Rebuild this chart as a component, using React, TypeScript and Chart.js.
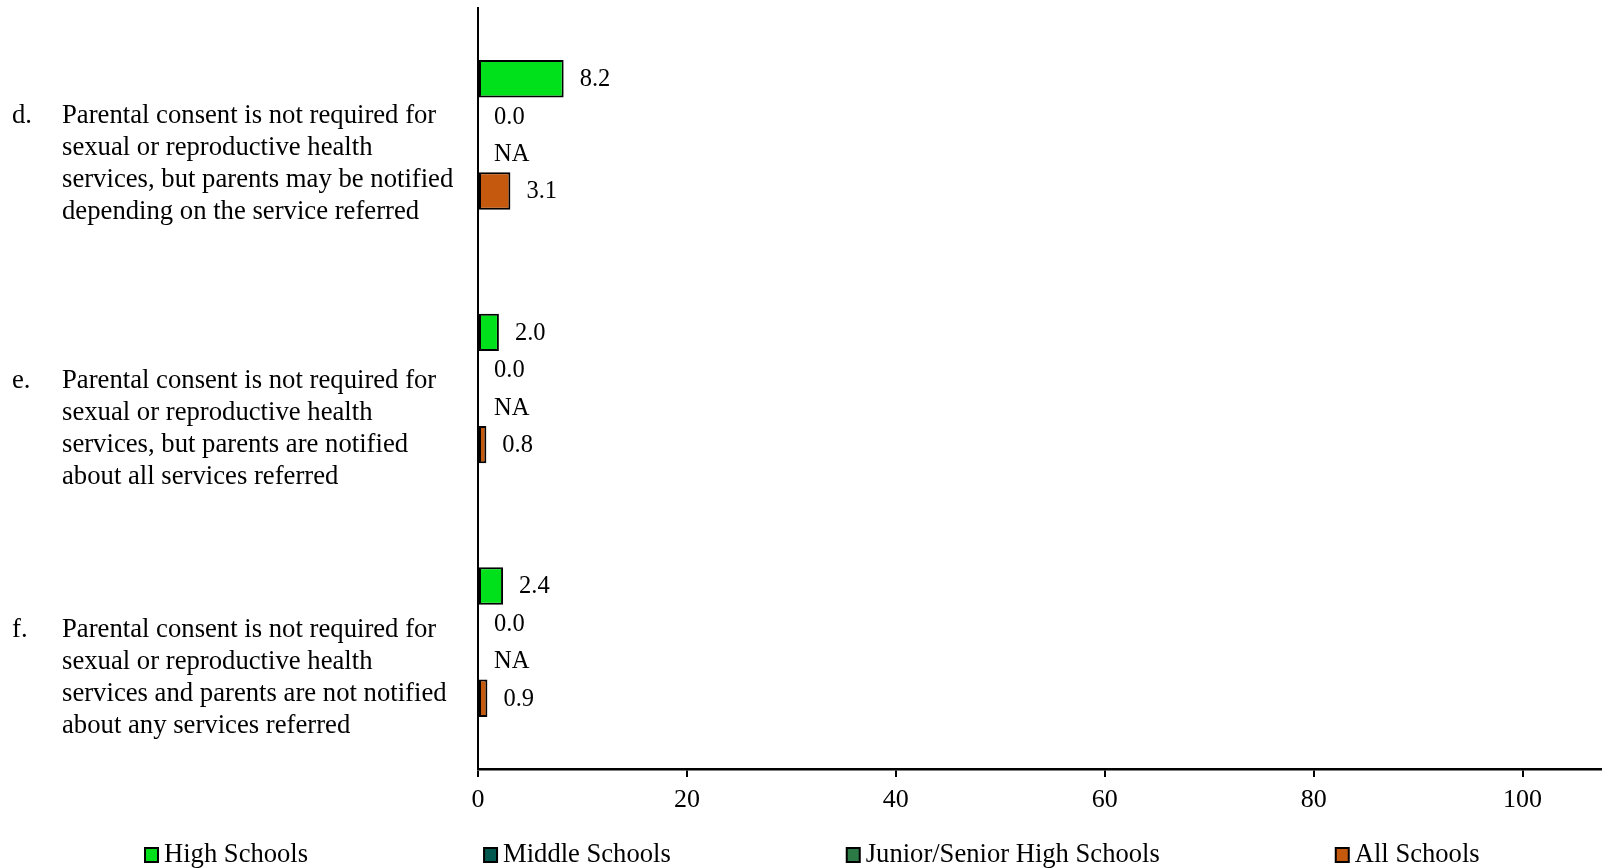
import React, { useEffect, useRef } from "react";
import { Chart, registerables } from "chart.js";

Chart.register(...registerables);

const categories = ["d", "e", "f"];
const categoryLetters = ["d.", "e.", "f."];
const categoryLines = [
  [
    "Parental consent is not required for",
    "sexual or reproductive health",
    "services, but parents may be notified",
    "depending on the service referred",
  ],
  [
    "Parental consent is not required for",
    "sexual or reproductive health",
    "services, but parents are notified",
    "about all services referred",
  ],
  [
    "Parental consent is not required for",
    "sexual or reproductive health",
    "services and parents are not notified",
    "about any services referred",
  ],
];

const seriesNames = ["High Schools", "Middle Schools", "Junior/Senior High Schools", "All Schools"];
const highSchools = [8.2, 2.0, 2.4];
const middleSchools = [0.0, 0.0, 0.0];
const juniorSeniorHighSchools: (number | null)[] = [null, null, null];
const allSchools = [3.1, 0.8, 0.9];
const seriesColors = ["#00E11B", "#00584F", "#2C7A45", "#C55A0E"];
const xTicks = [0, 20, 40, 60, 80, 100];

// style-only: first text line offset relative to the category centre
const textLineOffsets = [-19, -8, -12.5];

const FONT = "'Liberation Serif', 'Times New Roman', serif";

const valueLabelPlugin = {
  id: "valueLabels",
  afterDatasetsDraw(chart: any) {
    const ctx = chart.ctx;
    const xs = chart.scales.x;
    ctx.save();
    ctx.font = `24.5px ${FONT}`;
    ctx.fillStyle = "#000";
    ctx.textAlign = "left";
    ctx.textBaseline = "middle";
    chart.data.datasets.forEach((ds: any, di: number) => {
      const meta = chart.getDatasetMeta(di);
      meta.data.forEach((el: any, i: number) => {
        const v = ds.data[i];
        const end = v == null ? xs.getPixelForValue(0) : el.x;
        const txt = v == null ? "NA" : Number(v).toFixed(1);
        ctx.fillText(txt, end + 16, el.y + 1);
      });
    });
    ctx.restore();
  },
};

const categoryTextPlugin = {
  id: "categoryText",
  afterDraw(chart: any) {
    const ctx = chart.ctx;
    const ys = chart.scales.y;
    ctx.save();
    ctx.font = `26.7px ${FONT}`;
    ctx.fillStyle = "#000";
    ctx.textAlign = "left";
    ctx.textBaseline = "middle";
    categories.forEach((_c, i) => {
      const cy = ys.getPixelForValue(i);
      const y0 = cy + textLineOffsets[i];
      ctx.fillText(categoryLetters[i], 12, y0);
      categoryLines[i].forEach((line, li) => {
        ctx.fillText(line, 62, y0 + li * 32);
      });
    });
    ctx.restore();
  },
};

const legendPlugin = {
  id: "customLegend",
  afterDraw(chart: any) {
    const ctx = chart.ctx;
    ctx.save();
    ctx.font = `26.6px ${FONT}`;
    ctx.textAlign = "left";
    ctx.textBaseline = "middle";
    let x = 145;
    const y = 855;
    seriesNames.forEach((name, i) => {
      ctx.fillStyle = seriesColors[i];
      ctx.fillRect(x, y - 7, 13, 14);
      ctx.strokeStyle = "#000";
      ctx.lineWidth = 2;
      ctx.strokeRect(x, y - 7, 13, 14);
      ctx.fillStyle = "#000";
      ctx.fillText(name, x + 19, y);
      x += 19 + ctx.measureText(name).width + 176;
    });
    ctx.restore();
  },
};

export default function App() {
  const ref = useRef<HTMLCanvasElement | null>(null);
  useEffect(() => {
    if (!ref.current) return;
    const seriesData = [highSchools, middleSchools, juniorSeniorHighSchools, allSchools];
    const chart = new Chart(ref.current, {
      type: "bar",
      data: {
        labels: categories,
        datasets: seriesNames.map((name, i) => ({
          label: name,
          data: seriesData[i] as any,
          backgroundColor: seriesColors[i],
          borderColor: "#000",
          borderWidth: 2,
          borderSkipped: false,
          categoryPercentage: 0.59,
          barPercentage: 1.0,
        })),
      },
      options: {
        indexAxis: "y",
        responsive: false,
        animation: false,
        layout: { padding: { top: 8, left: 0, right: 0, bottom: 0 } },
        plugins: { legend: { display: false }, tooltip: { enabled: false } },
        scales: {
          x: {
            type: "linear",
            min: 0,
            max: 107.6,
            afterFit: (s: any) => {
              s.height = 99;
            },
            afterBuildTicks: (s: any) => {
              s.ticks = xTicks.map((v) => ({ value: v }));
            },
            ticks: {
              font: { family: FONT, size: 26 },
              color: "#000",
              padding: 8,
              maxRotation: 0,
            },
            grid: {
              display: true,
              drawOnChartArea: false,
              drawTicks: true,
              tickLength: 8,
              color: "#000",
              lineWidth: 2,
            },
            border: { display: true, color: "#000", width: 2.5 },
          },
          y: {
            type: "category",
            afterFit: (s: any) => {
              s.width = 478;
            },
            ticks: { display: false },
            grid: { display: false, drawTicks: false },
            border: { display: true, color: "#000", width: 2 },
          },
        },
      },
      plugins: [valueLabelPlugin, categoryTextPlugin, legendPlugin],
    });
    return () => chart.destroy();
  }, []);
  return (
    <div style={{ position: "fixed", left: 0, top: 0, width: 1602, height: 868, background: "#fff" }}>
      <canvas ref={ref} width={1602} height={868} style={{ display: "block" }} />
    </div>
  );
}
